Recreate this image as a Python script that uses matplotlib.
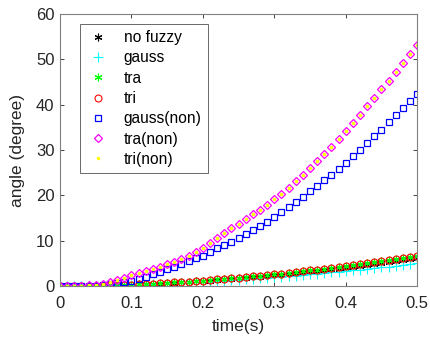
import matplotlib.pyplot as plt
from matplotlib.ticker import FormatStrFormatter

plt.rcParams['font.family'] = ['Liberation Sans', 'DejaVu Sans']

# time axis, one sample every 0.01 s
t = [i / 100 for i in range(51)]

no_fuzzy = [0, 0, 0.01, 0.02, 0.04, 0.07, 0.10, 0.14, 0.19, 0.24, 0.30,
            0.36, 0.43, 0.50, 0.57, 0.65, 0.74, 0.83, 0.92, 1.02, 1.12,
            1.23, 1.34, 1.46, 1.58, 1.70, 1.83, 1.97, 2.10, 2.24, 2.39,
            2.54, 2.69, 2.85, 3.01, 3.17, 3.34, 3.52, 3.69, 3.88, 4.06,
            4.25, 4.45, 4.65, 4.85, 5.06, 5.27, 5.49, 5.71, 5.93, 6.16]
gauss = [0, 0, 0.01, 0.02, 0.03, 0.05, 0.08, 0.11, 0.15, 0.19, 0.24,
         0.29, 0.35, 0.41, 0.47, 0.54, 0.61, 0.68, 0.76, 0.84, 0.92,
         1.01, 1.10, 1.20, 1.30, 1.40, 1.50, 1.61, 1.72, 1.84, 1.96,
         2.08, 2.20, 2.33, 2.46, 2.60, 2.74, 2.88, 3.02, 3.17, 3.32,
         3.47, 3.63, 3.79, 3.95, 4.12, 4.29, 4.46, 4.64, 4.82, 5.00]
tra = [0, 0, 0.01, 0.03, 0.05, 0.08, 0.12, 0.16, 0.21, 0.27, 0.33,
       0.40, 0.47, 0.55, 0.63, 0.72, 0.81, 0.91, 1.01, 1.12, 1.23,
       1.35, 1.47, 1.60, 1.73, 1.86, 2.00, 2.15, 2.30, 2.45, 2.61,
       2.77, 2.94, 3.11, 3.28, 3.46, 3.65, 3.84, 4.03, 4.23, 4.43,
       4.64, 4.85, 5.07, 5.29, 5.52, 5.75, 5.98, 6.22, 6.46, 6.71]
tri = [0, 0, 0.01, 0.03, 0.05, 0.08, 0.12, 0.16, 0.21, 0.27, 0.33,
       0.40, 0.47, 0.55, 0.63, 0.72, 0.81, 0.91, 1.01, 1.12, 1.23,
       1.35, 1.47, 1.60, 1.73, 1.86, 2.00, 2.15, 2.30, 2.45, 2.61,
       2.77, 2.94, 3.11, 3.28, 3.46, 3.65, 3.84, 4.03, 4.23, 4.43,
       4.64, 4.85, 5.07, 5.29, 5.52, 5.75, 5.98, 6.22, 6.46, 6.71]
gauss_non = [0, 0, 0, 0.02, 0.06, 0.12, 0.25, 0.4, 0.6, 0.9, 1.2,
             1.6, 2.1, 2.6, 3.2, 3.7, 4.3, 4.9, 5.5, 6.1, 6.7,
             7.5, 8.3, 9.0, 9.8, 10.6, 11.4, 12.3, 13.2, 14.2, 15.2,
             16.3, 17.4, 18.5, 19.7, 20.9, 22.1, 23.3, 24.6, 25.9, 27.2,
             28.6, 30.0, 31.5, 33.0, 34.5, 36.1, 37.7, 39.3, 40.9, 42.4]
tra_non = [0, 0, 0, 0.05, 0.15, 0.35, 0.55, 0.85, 1.3, 1.8, 2.4,
           2.9, 3.4, 3.8, 4.3, 4.8, 5.4, 6.0, 6.7, 7.5, 8.5,
           9.5, 10.6, 11.7, 12.8, 13.8, 14.8, 15.8, 16.8, 17.9, 19.1,
           20.4, 21.7, 23.1, 24.5, 26.0, 27.5, 29.1, 30.7, 32.4, 34.2,
           36.0, 37.8, 39.6, 41.5, 43.4, 45.3, 47.2, 49.2, 51.2, 53.2]
tri_non = [0, 0, 0, 0.05, 0.15, 0.35, 0.55, 0.85, 1.3, 1.8, 2.4,
           2.9, 3.4, 3.8, 4.3, 4.8, 5.4, 6.0, 6.7, 7.5, 8.5,
           9.5, 10.6, 11.7, 12.8, 13.8, 14.8, 15.8, 16.8, 17.9, 19.1,
           20.4, 21.7, 23.1, 24.5, 26.0, 27.5, 29.1, 30.7, 32.4, 34.2,
           36.0, 37.8, 39.6, 41.5, 43.4, 45.3, 47.2, 49.2, 51.2, 53.2]

asterisk = (6, 2, 0)

fig = plt.figure(figsize=(4.3, 3.39), dpi=100)
ax = fig.add_axes([0.1395, 0.156, 0.8305, 0.803])

ax.plot(t, no_fuzzy, ls='none', marker=asterisk, ms=5.5, mew=0.8, color='k', label='no fuzzy')
ax.plot(t, gauss, ls='none', marker='+', ms=6.5, mew=0.8, color='#00ffff', label='gauss')
ax.plot(t, tra, ls='none', marker=asterisk, ms=5.5, mew=0.8, color='#00ff00', label='tra')
ax.plot(t, tri, ls='none', marker='o', ms=5, mew=0.8, mfc='none', color='#ff0000', label='tri')
ax.plot(t, gauss_non, ls='none', marker='s', ms=4.3, mew=0.9, mfc='none', color='#0000ff', label='gauss(non)')
ax.plot(t, tra_non, ls='none', marker='D', ms=4.3, mew=0.9, mfc='none', color='#ff00ff', label='tra(non)')
ax.plot(t, tri_non, ls='none', marker='.', ms=3, color='#ffff00', label='tri(non)')

ax.set_xlim(0, 0.5)
ax.set_ylim(0, 60)
ax.set_xticks([0, 0.1, 0.2, 0.3, 0.4, 0.5])
ax.set_yticks([0, 10, 20, 30, 40, 50, 60])
ax.xaxis.set_major_formatter(FormatStrFormatter('%g'))
ax.tick_params(direction='in', top=True, right=True, length=3, width=0.6,
               colors='#262626', labelsize=12, pad=4)
ax.tick_params(axis='x', pad=7)
for s in ax.spines.values():
    s.set_color('#808080')
    s.set_linewidth(0.8)

ax.set_xlabel('time(s)', fontsize=12.5, color='#262626', labelpad=6)
ax.set_ylabel('angle (degree)', fontsize=12.5, color='#262626', labelpad=8)

leg = ax.legend(loc='upper left', bbox_to_anchor=(0.056, 0.963), borderaxespad=0,
                numpoints=1, fontsize=11.2, frameon=True, fancybox=False,
                edgecolor='#262626', borderpad=0.4, labelspacing=0.34,
                handlelength=1.5, handletextpad=0.9)
leg.get_frame().set_linewidth(0.6)

plt.savefig('out.png')
plt.close()
